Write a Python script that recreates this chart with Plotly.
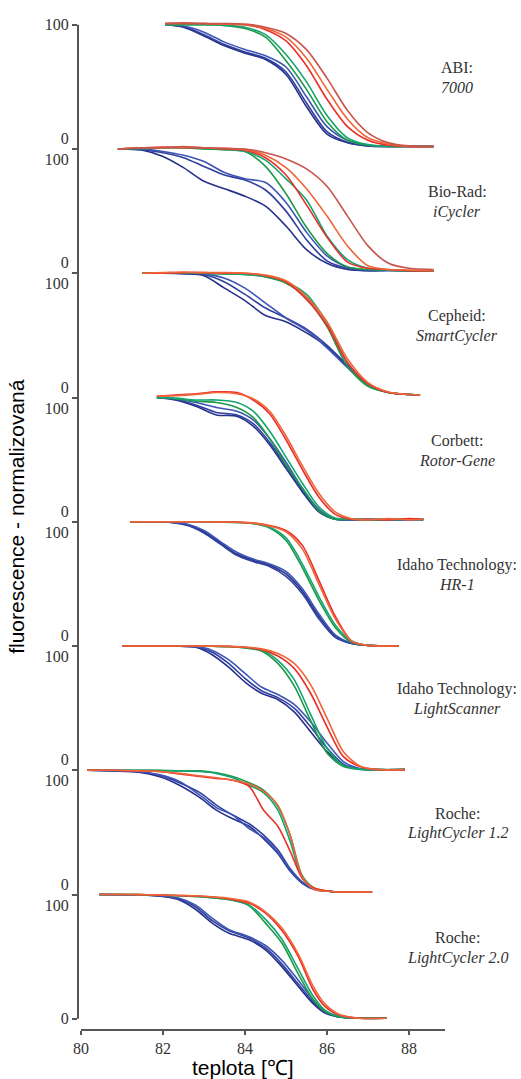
import plotly.graph_objects as go

# ---------------- data (temperature in °C, normalised fluorescence 0-100) ----------------
abi_t = [82.05, 82.5, 83.0, 83.5, 84.0, 84.5, 85.0, 85.5, 86.0, 86.5, 87.0, 87.5, 88.0, 88.6]
abi_blue = [
    [100, 98, 91, 83, 77, 72, 60, 34, 12, 5, 2.5, 2, 2, 2],
    [100, 98.5, 92, 84, 78, 73, 62, 37, 14, 5.5, 2.5, 2, 2, 2],
    [100, 99, 94, 86, 80, 75, 66, 42, 18, 7, 3, 2, 2, 2],
]
abi_green = [
    [100, 100, 100, 99.5, 97, 90, 71, 48, 22, 7, 3, 2, 2, 2],
    [100, 100, 100, 99.5, 98, 92, 76, 54, 27, 9, 3.5, 2, 2, 2],
]
abi_red = [
    [101, 101, 101, 100.5, 100, 96, 87, 67, 40, 18, 7, 3, 2, 2],
    [101, 101, 101, 100.5, 100, 97, 90, 73, 48, 24, 9, 4, 2, 2],
    [101, 101.5, 101, 101, 100.5, 98, 93, 80, 57, 31, 13, 5, 2.5, 2],
]

biorad_t = [80.9, 81.5, 82.0, 82.5, 83.0, 83.5, 84.0, 84.5, 85.0, 85.5, 86.0, 86.5, 87.0, 87.5, 88.0, 88.6]
biorad_blue = [
    [100, 99, 94, 85, 74, 68, 62, 54, 38, 19, 8, 3, 2, 2.5, 2, 2],
    [100, 99.5, 97, 93, 86, 79, 75, 67, 50, 27, 10, 4, 2, 2.5, 2, 2],
    [100, 100, 98, 95, 90, 81, 76, 73, 57, 33, 14, 5, 2.5, 2, 2, 2],
]
biorad_green = [
    [100, 100.5, 101, 101, 100, 99.5, 98, 86, 64, 37, 16, 5, 3, 2.5, 2, 2],
    [100, 100.5, 101, 101, 100.5, 99.5, 98, 91, 76, 59, 30, 11, 4, 2.5, 2, 2],
]
biorad_red = [
    [100, 101, 101.5, 101, 101, 100, 99, 93, 79, 55, 29, 9, 4, 3, 2, 2],
    [100, 101, 101, 101.5, 101, 100.5, 99.5, 95, 85, 68, 46, 22, 6, 3, 2.5, 2],
    [100, 101, 101, 102, 101, 100.5, 100, 97, 92, 84, 70, 46, 22, 8, 4, 3],
]

cepheid_t = [81.5, 82.0, 82.5, 83.0, 83.5, 84.0, 84.5, 85.0, 85.5, 86.0, 86.5, 87.0, 87.5, 88.27]
cepheid_blue = [
    [100, 100, 99.5, 98, 88, 78, 66, 61, 52, 41, 25, 10, 4, 2],
    [100, 100, 100, 99, 93, 83, 72, 64, 55, 42, 26, 11, 4, 2],
    [100, 100, 100, 99.5, 96, 88, 76, 64, 54, 40, 24, 10, 4, 2],
]
cepheid_green = [
    [100, 100, 100, 100, 99.5, 99, 97, 92, 80, 57, 25, 9, 4, 2],
    [100, 100, 100, 100, 99.5, 99, 97.5, 93, 83, 60, 28, 10, 4, 2],
]
cepheid_red = [
    [100, 100, 100.5, 100.5, 100, 100, 98, 93, 79, 58, 28, 11, 4, 2],
    [100, 100.5, 101, 100.5, 100.5, 100, 98.5, 94, 81, 61, 31, 12, 4.5, 2],
]

corbett_t = [81.85, 82.3, 82.8, 83.3, 83.8, 84.2, 84.6, 85.0, 85.4, 85.8, 86.2, 86.6, 87.0, 87.5, 88.0, 88.35]
corbett_blue = [
    [100, 98, 93, 86, 85, 77, 62, 43, 24, 8, 2, 1.5, 2, 1.5, 2, 1.5],
    [100, 98.5, 94, 88, 86, 79, 64, 45, 25, 9, 2, 2, 1.5, 2, 1.5, 2],
    [100, 99, 96, 92, 89, 82, 67, 48, 27, 10, 2.5, 1.5, 2, 2, 1.5, 2],
]
corbett_green = [
    [100, 99, 97, 96, 92, 84, 67, 46, 27, 9, 2, 2, 1.5, 2, 2, 1.5],
    [100, 99.5, 98, 98, 96, 89, 73, 52, 31, 12, 3, 2, 2, 1.5, 2, 2],
]
corbett_red = [
    [101, 102, 103, 104.5, 104, 98, 87, 66, 42, 20, 6, 2, 2, 1.5, 2.5, 2],
    [101, 101.5, 102.5, 104, 103, 99, 89, 69, 45, 23, 8, 2.5, 1.5, 2.5, 1.5, 2],
]

hr1_t = [81.2, 81.8, 82.2, 82.6, 83.0, 83.4, 83.8, 84.2, 84.6, 85.0, 85.4, 85.8, 86.2, 86.6, 87.0, 87.75]
hr1_blue = [
    [100, 100, 99.5, 97.5, 92, 83, 74, 69, 65, 58, 44, 24, 8, 2, 0.5, 0],
    [100, 100, 99.5, 97, 91, 82, 73, 68, 64, 56, 42, 22, 7, 2, 0.5, 0],
    [100, 100, 99.7, 98, 93, 84, 75.5, 70, 66, 60, 46, 26, 9, 2.5, 0.5, 0],
]
hr1_green = [
    [100, 100, 100, 100, 100, 99.8, 99.5, 98.5, 95, 85, 63, 37, 15, 3, 0.5, 0],
    [100, 100, 100, 100, 100, 99.8, 99.5, 98.7, 95.5, 87, 66, 40, 17, 4, 0.5, 0],
]
hr1_red = [
    [100, 100, 100, 100, 100, 99.9, 99.7, 99, 97, 93, 81, 53, 24, 4, 0.5, 0],
    [100, 100, 100, 100, 100, 99.9, 99.6, 99, 96.5, 92, 78, 50, 22, 4, 0.5, 0],
]

ls_t = [81.0, 81.8, 82.4, 82.8, 83.2, 83.6, 84.0, 84.4, 84.8, 85.2, 85.6, 86.0, 86.4, 86.8, 87.2, 87.9]
ls_blue = [
    [100, 100, 99.8, 99, 93, 83, 71, 62, 57, 47, 31, 15, 4, 1, 0.5, 0.5],
    [100, 100, 99.8, 99.3, 95, 86, 74, 64, 58.5, 50, 35, 18, 5, 1, 0.5, 0.5],
    [100, 100, 99.9, 99.5, 96.5, 89, 78, 67, 61, 53, 39, 22, 7, 1.5, 0.5, 0.5],
]
ls_green = [
    [100, 100, 100, 100, 99.8, 99.5, 98.5, 96, 86, 68, 40, 14, 3, 0.7, 0.5, 0.5],
    [100, 100, 100, 100, 99.9, 99.6, 98.8, 96.8, 88.5, 73, 45, 18, 4, 1, 0.5, 0.5],
]
ls_red = [
    [100, 100, 100, 100, 99.9, 99.7, 99, 97, 92, 82, 62, 35, 11, 3, 0.6, 0.5],
    [100, 100, 100, 100, 99.9, 99.7, 99.2, 97.7, 94, 86, 69, 42, 15, 3.5, 0.7, 0.5],
]

lc12_t = [80.15, 80.8, 81.4, 81.9, 82.4, 82.9, 83.3, 83.7, 84.1, 84.45, 84.8, 85.1, 85.4, 85.7, 86.1, 86.6, 87.1]
lc12_blue = [
    [100, 99.5, 98.5, 95, 88, 78, 68, 61, 55, 45, 33, 19, 9, 4, 2.5, 2, 2],
    [100, 99.5, 99, 96, 90, 82, 72, 64, 57, 48, 36, 21, 10, 4.5, 2.5, 2, 2],
    [100, 99.8, 99, 96.5, 91, 80, 70, 64, 53, 46, 34, 20, 9, 4, 2.5, 2, 2],
]
lc12_green = [
    [100, 100, 100, 100, 99.5, 99.5, 98, 95, 90, 84, 71, 48, 15, 5, 2.5, 2, 2],
    [100, 100, 100, 99.8, 99.5, 99, 97.5, 94, 88, 82, 68, 43, 13, 4.5, 2.5, 2, 2],
]
lc12_red = [
    [100, 100, 99.5, 99, 97, 95, 93.5, 92, 87, 68, 55, 35, 13, 5, 2.5, 2, 2],
    [100, 100, 99.5, 99, 97.5, 95.5, 94, 92, 89, 83, 72, 48, 14, 4, 2.5, 2, 2],
]

lc20_t = [80.45, 81.2, 81.6, 82.0, 82.4, 82.8, 83.2, 83.6, 84.1, 84.5, 84.9, 85.3, 85.65, 85.95, 86.3, 86.8, 87.45]
lc20_blue = [
    [100, 99.8, 99.5, 98.4, 95.7, 88, 77, 69, 63.6, 55.5, 42, 26, 12.6, 4.6, 1.5, 0.5, 0.5],
    [100, 99.8, 99.5, 98.6, 96.5, 90, 79, 71, 65, 57, 44, 28, 14, 5, 1.5, 0.5, 0.5],
    [100, 99.8, 99.6, 98.8, 97, 91.5, 81, 72, 66, 59, 47, 31, 16, 6, 2, 0.5, 0.5],
]
lc20_green = [
    [100, 100, 99.8, 99.5, 99, 98.5, 97.5, 96, 91, 77, 61, 36, 16, 6, 1.5, 0.5, 0.5],
    [100, 100, 99.8, 99.5, 99, 98.5, 97.5, 96, 91.5, 80, 64, 40, 19, 7, 2, 0.5, 0.5],
]
lc20_red = [
    [100, 100, 99.8, 99.5, 99.2, 98.8, 98, 96.5, 93, 85, 71, 50, 24, 10, 3, 0.5, 0.5],
    [100, 100, 99.8, 99.6, 99.3, 99, 98.2, 97, 94, 86, 73, 52, 27, 12, 3.5, 0.5, 0.5],
]

instrument_makers = ["ABI:", "Bio-Rad:", "Cepheid:", "Corbett:", "Idaho Technology:",
                     "Idaho Technology:", "Roche:", "Roche:"]
instrument_models = ["7000", "iCycler", "SmartCycler", "Rotor-Gene", "HR-1",
                     "LightScanner", "LightCycler 1.2", "LightCycler 2.0"]

x_ticks = [80, 82, 84, 86, 88]

# ---------------- figure ----------------
panels = [
    (abi_t, abi_blue, abi_green, abi_red),
    (biorad_t, biorad_blue, biorad_green, biorad_red),
    (cepheid_t, cepheid_blue, cepheid_green, cepheid_red),
    (corbett_t, corbett_blue, corbett_green, corbett_red),
    (hr1_t, hr1_blue, hr1_green, hr1_red),
    (ls_t, ls_blue, ls_green, ls_red),
    (lc12_t, lc12_blue, lc12_green, lc12_red),
    (lc20_t, lc20_blue, lc20_green, lc20_red),
]

blue_cols = ["#25318a", "#2f3f9e", "#3d55b5"]
green_cols = ["#1c9a48", "#14a371"]
red_cols = ["#e8302a", "#f06438", "#c8544a"]

n = len(panels)
fig = go.Figure()
for i, (t, blues, greens, reds) in enumerate(panels):
    off = (n - 1 - i) * 100
    groups = [(blues, blue_cols), (greens, green_cols), (reds, red_cols)]
    for curves, cols in groups:
        for k, v in enumerate(curves):
            fig.add_trace(go.Scatter(
                x=t, y=[val + off for val in v], mode="lines",
                line=dict(color=cols[k % len(cols)], width=1.6, shape="spline", smoothing=0.8),
                hoverinfo="skip", showlegend=False))

serif = "Liberation Serif, Times New Roman, serif"
sans = "Liberation Sans, Arial, sans-serif"

tickvals = [k * 100 for k in range(n + 1)]
ticktext = ["0"] + ["0<br>100"] * (n - 1) + ["100"]

annotations = []
for i in range(n):
    off = (n - 1 - i) * 100
    annotations.append(dict(x=1.0327, xref="paper", y=off + 65.4, yref="y",
                            text=instrument_makers[i], showarrow=False, xanchor="center",
                            yanchor="middle", font=dict(family=serif, size=16, color="#333")))
    annotations.append(dict(x=1.0327, xref="paper", y=off + 49.3, yref="y",
                            text="<i>" + instrument_models[i] + "</i>", showarrow=False,
                            xanchor="center", yanchor="middle",
                            font=dict(family=serif, size=16, color="#333")))
annotations.append(dict(x=-0.1662, xref="paper", y=0.5086, yref="paper",
                        text="fluorescence - normalizovaná", textangle=-90, showarrow=False,
                        xanchor="center", yanchor="middle",
                        font=dict(family=sans, size=21, color="#000")))
annotations.append(dict(x=0.4496, xref="paper", y=-0.0367, yref="paper",
                        text="teplota [℃]", showarrow=False, xanchor="center", yanchor="middle",
                        font=dict(family=sans, size=21, color="#000")))

shapes = [
    dict(type="line", xref="paper", x0=0, x1=0, yref="y", y0=0, y1=n * 100,
         line=dict(color="#555", width=2)),
    dict(type="line", xref="x", x0=80.0, x1=88.878, yref="paper", y0=0, y1=0,
         line=dict(color="#555", width=2)),
]

fig.update_layout(
    width=521, height=1079,
    margin=dict(l=78, r=76, t=21, b=49),
    paper_bgcolor="white", plot_bgcolor="white",
    showlegend=False,
    annotations=annotations,
    shapes=shapes,
    xaxis=dict(range=[79.927, 88.878], tickvals=x_ticks, ticks="outside", ticklen=4,
               tickcolor="#555", tickwidth=1.5, showgrid=False, zeroline=False, showline=False,
               tickfont=dict(family=serif, size=16, color="#333")),
    yaxis=dict(range=[-9, 803], tickvals=tickvals, ticktext=ticktext, ticks="outside",
               ticklen=5, tickcolor="#555", tickwidth=1.5, showgrid=False, zeroline=False,
               showline=False, tickfont=dict(family=serif, size=16, color="#333")),
)

fig.write_html("out.html")
